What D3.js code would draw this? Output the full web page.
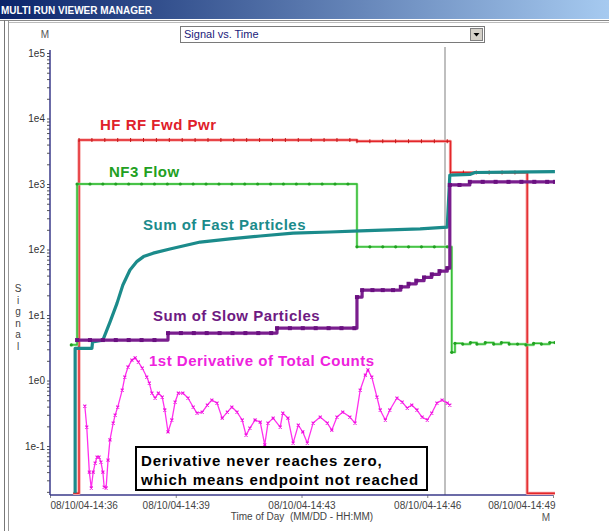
<!DOCTYPE html>
<html>
<head>
<meta charset="utf-8">
<script src="https://cdn.jsdelivr.net/npm/d3@7"></script>
<style>
  body { margin: 0; background: #fff; }
  svg { display: block; font-family: Arial, "Liberation Sans", sans-serif; }
</style>
</head>
<body>
<div id="chart"></div>
<script>
// times are seconds elapsed since the axis start (08/10/04 14:36:30)
const startTime = new Date(2004, 7, 10, 14, 36, 30);
const endTime = new Date(2004, 7, 10, 14, 49, 30);
const tickSeconds = [0, 195, 390, 585, 780];

const redTime = [36, 45, 65, 85, 105, 125, 145, 165, 185, 205, 225, 245, 265, 285, 305, 325, 345, 365, 385, 405, 425, 445, 465,
  476, 496, 516, 536, 556, 576, 596, 616, 621, 641, 661, 681, 701, 721, 740, 760, 783];
const redValue = [0.019, 4700, 4700, 4700, 4700, 4700, 4700, 4700, 4700, 4700, 4700, 4700, 4700, 4700, 4700, 4700, 4700, 4700, 4700, 4700, 4700, 4700, 4700,
  4500, 4500, 4500, 4500, 4500, 4500, 4500, 4500, 1500, 1500, 1500, 1500, 1500, 1500, 0.019, 0.019, 0.019];

const greenTime = [33, 42, 62, 82, 102, 122, 142, 162, 182, 202, 222, 242, 262, 282, 302, 322, 342, 362, 382, 402, 422, 442, 462,
  476, 496, 516, 536, 556, 576, 596, 616, 623, 628, 640, 652, 662, 675, 688, 700, 712, 725, 738, 750, 762, 775, 783];
const greenValue = [3.5, 1000, 1000, 1000, 1000, 1000, 1000, 1000, 1000, 1000, 1000, 1000, 1000, 1000, 1000, 1000, 1000, 1000, 1000, 1000, 1000, 1000, 1000,
  110, 110, 110, 110, 110, 110, 110, 110, 2.7, 3.7, 3.6, 3.8, 3.6, 3.8, 3.6, 3.8, 3.6, 3.6, 3.5, 3.7, 3.6, 3.8, 3.8];

const tealTime = [39, 39, 65, 66, 82, 93, 104, 113, 124, 135, 145, 160, 186, 233, 279, 326, 377, 434, 481, 527, 574, 616, 620, 651, 659, 783];
const tealValue = [0.019, 3.1, 3.1, 3.9, 4.15, 7.8, 15.2, 28.7, 48.6, 66, 78, 88, 102, 130, 145, 161, 178, 185, 192, 200, 206, 220, 1370, 1400, 1500, 1550];

const purpleTime = [42, 62, 82, 102, 122, 142, 162, 183, 203, 223, 243, 263, 283, 303, 323, 343, 352, 372, 392, 412, 432, 452, 472,
  476, 484, 500, 516, 532, 544, 556, 568, 580, 592, 604, 616, 620, 635, 651, 671, 691, 711, 731, 751, 771, 783];
const purpleValue = [4.15, 4.15, 4.15, 4.15, 4.15, 4.15, 4.15, 5.3, 5.3, 5.3, 5.3, 5.3, 5.3, 5.3, 5.3, 5.3, 6.3, 6.3, 6.3, 6.3, 6.3, 6.3, 6.3,
  18.8, 24, 24, 24, 24, 26.9, 30, 33.5, 37.5, 41.8, 46.8, 52, 967, 967, 1080, 1080, 1080, 1080, 1080, 1080, 1080, 1080];

const derivTime = [54, 57, 61, 64, 67, 70, 73, 76, 79, 82, 84, 87, 90, 93, 98, 101, 105, 112, 116, 121, 127, 132, 137, 143, 150, 154, 158, 163, 168, 174, 178, 183, 189, 194, 199, 206,
  214, 222, 228, 236, 244, 251, 259, 267, 275, 282, 290, 298, 304, 310, 318, 326, 333, 338, 346, 357, 361, 369, 377, 385, 392, 399, 408, 419, 430, 437, 445, 454, 465, 473,
  481, 489, 493, 499, 507, 512, 520, 527, 538, 546, 554, 561, 569, 577, 585, 592, 600, 608, 616, 620];
const derivValue = [0.408, 0.195, 0.040, 0.0229, 0.040, 0.055, 0.068, 0.068, 0.057, 0.040, 0.0237, 0.0229, 0.061, 0.124, 0.224, 0.297, 0.394, 0.716, 1.13, 1.61, 2.05, 2.21, 1.92, 1.55, 1.13, 0.916, 0.644, 0.541, 0.644, 0.560, 0.355, 0.164, 0.250, 0.470, 0.644, 0.644,
  0.541, 0.394, 0.319, 0.330, 0.423, 0.504, 0.453, 0.267, 0.330, 0.394, 0.330, 0.250, 0.147, 0.188, 0.250, 0.232, 0.104, 0.224, 0.267, 0.195, 0.319, 0.267, 0.111, 0.209, 0.164, 0.111, 0.224, 0.277, 0.224, 0.175, 0.277, 0.330, 0.277, 0.224,
  0.716, 1.21, 1.45, 1.13, 0.560, 0.355, 0.250, 0.355, 0.541, 0.470, 0.380, 0.423, 0.355, 0.277, 0.250, 0.319, 0.453, 0.504, 0.453, 0.423];

const yMin = 0.0179, yMax = 1e5;
const seriesNames = ["HF RF Fwd Pwr", "NF3 Flow", "Sum of Fast Particles", "Sum of Slow Particles", "1st Derivative of Total Counts"];
const noteLines = ["Derivative never reaches zero,", "which means endpoint not reached"];

const W = 609, H = 531;
const svg = d3.select("#chart").append("svg").attr("width", W).attr("height", H);

// window chrome
const grad = svg.append("defs").append("linearGradient").attr("id", "tb");
grad.append("stop").attr("offset", "0%").attr("stop-color", "#0a246a");
grad.append("stop").attr("offset", "100%").attr("stop-color", "#a6caf0");
svg.append("rect").attr("x", 0).attr("y", 0).attr("width", W).attr("height", 19).attr("fill", "url(#tb)");
svg.append("text").attr("x", 1).attr("y", 14).attr("fill", "#fff").attr("font-size", 10)
  .attr("font-weight", "bold").text("MULTI RUN VIEWER MANAGER");
svg.append("line").attr("x1", 0).attr("x2", W).attr("y1", 20.5).attr("y2", 20.5).attr("stroke", "#888");
svg.append("line").attr("x1", 4.5).attr("x2", 4.5).attr("y1", 20).attr("y2", H).attr("stroke", "#777");
svg.append("line").attr("x1", 8.5).attr("x2", 8.5).attr("y1", 21).attr("y2", H).attr("stroke", "#999");
svg.append("line").attr("x1", 9).attr("x2", W).attr("y1", 22.5).attr("y2", 22.5).attr("stroke", "#bbb");

// dropdown
svg.append("rect").attr("x", 180.5).attr("y", 26.5).attr("width", 304).attr("height", 16)
  .attr("fill", "#fff").attr("stroke", "#7a7a7a");
svg.append("text").attr("x", 184).attr("y", 38).attr("font-size", 11).attr("fill", "#1a1a7a").text("Signal vs. Time");
svg.append("rect").attr("x", 470.5).attr("y", 28.5).attr("width", 12).attr("height", 12)
  .attr("fill", "#d4d0c8").attr("stroke", "#808080");
svg.append("path").attr("d", "M473.5,33 h6 l-3,3.5 z").attr("fill", "#000");

const x = d3.scaleTime().domain([startTime, endTime]).range([50, 553]);
const y = d3.scaleLog().domain([yMin, yMax]).range([495, 53]);
const at = s => new Date(startTime.getTime() + s * 1000);

svg.append("clipPath").attr("id", "plot").append("rect")
  .attr("x", 50).attr("y", 40).attr("width", 505).attr("height", 455.5);

// cursor line
svg.append("line").attr("x1", 445).attr("x2", 445).attr("y1", 47).attr("y2", 495)
  .attr("stroke", "#aaa").attr("stroke-width", 1.5);

// y axis
let yTicks = [];
for (let e = -2; e <= 5; e++) {
  for (let m = 1; m <= 9; m++) {
    const v = m * Math.pow(10, e);
    if (v >= yMin && v <= yMax) yTicks.push(v);
  }
}
const yAxis = svg.append("g").attr("transform", "translate(50,0)")
  .call(d3.axisLeft(y).tickValues(yTicks).tickSize(3).tickPadding(2)
    .tickFormat(d => {
      const e = Math.round(Math.log10(d));
      return Math.abs(d - Math.pow(10, e)) < 1e-9 * d ? "1e" + e : "";
    }));
yAxis.select(".domain").remove();
yAxis.selectAll(".tick line").attr("stroke", "#555");
yAxis.selectAll(".tick text").attr("font-size", 10).attr("fill", "#333").attr("font-family", "Arial");
svg.append("line").attr("x1", 50).attr("x2", 50).attr("y1", 50).attr("y2", 495)
  .attr("stroke", "#3a3a8a").attr("stroke-width", 1.5);

// x axis
const xAxis = svg.append("g").attr("transform", "translate(0,495)")
  .call(d3.axisBottom(x).tickValues(tickSeconds.map(at)).tickSize(3).tickPadding(4)
    .tickFormat(d3.timeFormat("%m/%d/%y-%H:%M")));
xAxis.select(".domain").remove();
xAxis.selectAll(".tick line").attr("stroke", "#888");
xAxis.selectAll(".tick text").attr("font-size", 10).attr("fill", "#444").attr("font-family", "Arial");
xAxis.selectAll(".tick text").filter((d, i) => i === 0).attr("text-anchor", "start");
xAxis.selectAll(".tick text").filter((d, i) => i === tickSeconds.length - 1).attr("text-anchor", "end").attr("dx", 2);
svg.append("line").attr("x1", 50).attr("x2", 553).attr("y1", 495).attr("y2", 495)
  .attr("stroke", "#3a3a8a").attr("stroke-width", 1.5);

svg.append("text").attr("x", 302).attr("y", 520).attr("text-anchor", "middle").attr("font-size", 10)
  .attr("fill", "#444").attr("xml:space", "preserve").text("Time of Day  (MM/DD - HH:MM)");
svg.append("text").attr("x", 546).attr("y", 521).attr("text-anchor", "middle").attr("font-size", 10).attr("fill", "#555").text("M");
svg.append("text").attr("x", 45).attr("y", 38).attr("text-anchor", "middle").attr("font-size", 10).attr("fill", "#555").text("M");
"Signal".split("").forEach((c, i) => {
  svg.append("text").attr("x", 18).attr("y", 292 + i * 11.5).attr("text-anchor", "middle")
    .attr("font-size", 10).attr("fill", "#444").text(c);
});

// series
const plot = svg.append("g").attr("clip-path", "url(#plot)");
function zip(ts, vs) { return ts.map((t, i) => ({t: at(t), v: vs[i]})); }
function drawLine(data, color, width, curve) {
  plot.append("path").datum(data)
    .attr("fill", "none").attr("stroke", color).attr("stroke-width", width)
    .attr("stroke-linejoin", "round")
    .attr("d", d3.line().x(d => x(d.t)).y(d => y(d.v)).curve(curve));
}

const redData = zip(redTime, redValue);
drawLine(redData, "#f5a0a0", 3.2, d3.curveStepAfter);
drawLine(redData, "#e4262a", 1.4, d3.curveStepAfter);
plot.selectAll(".rm").data(redData.slice(1, -3)).enter().append("line")
  .attr("x1", d => x(d.t)).attr("x2", d => x(d.t))
  .attr("y1", d => y(d.v) - 2).attr("y2", d => y(d.v) + 2).attr("stroke", "#c01818");

const greenData = zip(greenTime, greenValue);
drawLine(greenData, "#9be69b", 2.6, d3.curveStepAfter);
drawLine(greenData, "#2eb82e", 1.3, d3.curveStepAfter);
plot.selectAll(".gm").data(greenData).enter().append("circle")
  .attr("cx", d => x(d.t)).attr("cy", d => y(d.v)).attr("r", 1.6).attr("fill", "#22a022");

const tealData = zip(tealTime, tealValue);
drawLine(tealData, "#1b8b8b", 3.2, d3.curveLinear);

const purpleData = zip(purpleTime, purpleValue);
drawLine(purpleData, "#7a1e8e", 3.2, d3.curveStepAfter);
plot.selectAll(".pm").data(purpleData).enter().append("rect")
  .attr("x", d => x(d.t) - 2).attr("y", d => y(d.v) - 2).attr("width", 4).attr("height", 4).attr("fill", "#6a1080");

const derivData = zip(derivTime, derivValue);
drawLine(derivData, "#ff30ee", 1.3, d3.curveLinear);
plot.selectAll(".dm").data(derivData).enter().append("path")
  .attr("transform", d => `translate(${x(d.t)},${y(d.v)})`)
  .attr("d", "M-1.5,-1.5L1.5,1.5M-1.5,1.5L1.5,-1.5").attr("stroke", "#ee10dd").attr("stroke-width", 1.1);

// series labels
const labelSpecs = [
  {x: 100, y: 130, color: "#e0202a"},
  {x: 109, y: 177, color: "#22a022"},
  {x: 143, y: 230, color: "#1b8b8b"},
  {x: 153, y: 321, color: "#6e1a82"},
  {x: 149, y: 366, color: "#ee22dd"}
];
seriesNames.forEach((n, i) => {
  svg.append("text").attr("x", labelSpecs[i].x).attr("y", labelSpecs[i].y)
    .attr("font-size", 15).attr("font-weight", "bold").attr("letter-spacing", 0.5)
    .attr("fill", labelSpecs[i].color).text(n);
});

// note box
svg.append("rect").attr("x", 136).attr("y", 447).attr("width", 291).attr("height", 43)
  .attr("fill", "#fff").attr("stroke", "#000").attr("stroke-width", 2);
noteLines.forEach((t, i) => {
  svg.append("text").attr("x", 141).attr("y", 466 + i * 19).attr("font-size", 15)
    .attr("font-weight", "bold").attr("letter-spacing", 0.85).attr("fill", "#000").text(t);
});
</script>
</body>
</html>
